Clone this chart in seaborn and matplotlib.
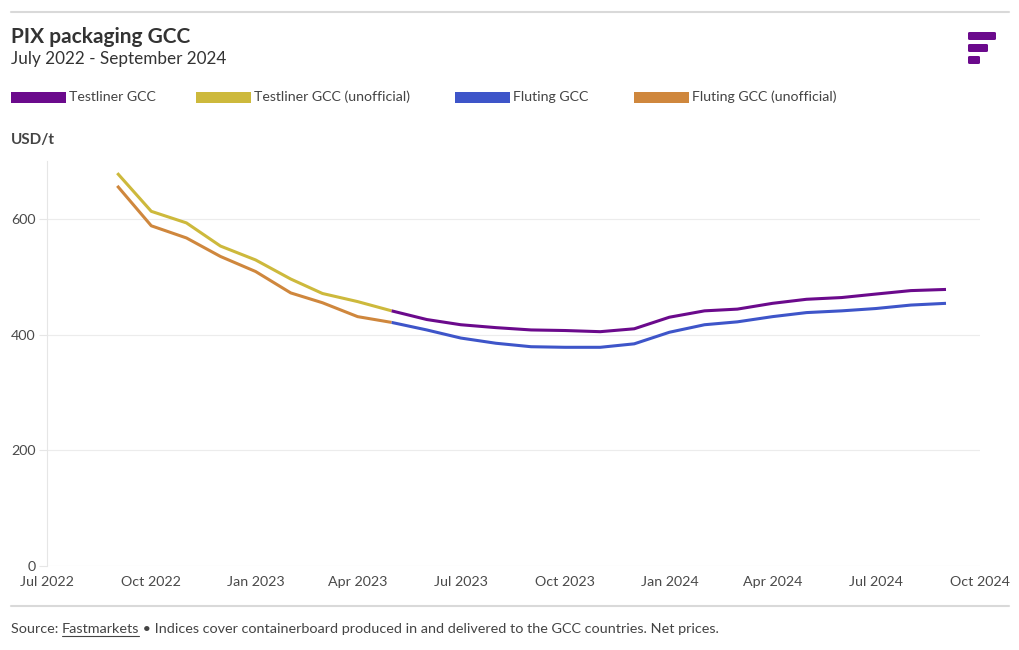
import matplotlib
matplotlib.use("Agg")
import matplotlib.pyplot as plt
from matplotlib.patches import FancyBboxPatch, Rectangle
from matplotlib.lines import Line2D
import seaborn as sns
import pandas as pd

# ---- data ----
unofficial_dates = ["2022-09-01", "2022-10-01", "2022-11-01", "2022-12-01", "2023-01-01",
                    "2023-02-01", "2023-03-01", "2023-04-01", "2023-05-01"]
testliner_unofficial = [679, 613, 593, 553, 529, 496, 471, 457, 441]
fluting_unofficial = [657, 588, 567, 535, 509, 472, 455, 431, 421]

official_dates = ["2023-05-01", "2023-06-01", "2023-07-01", "2023-08-01", "2023-09-01",
                  "2023-10-01", "2023-11-01", "2023-12-01", "2024-01-01", "2024-02-01",
                  "2024-03-01", "2024-04-01", "2024-05-01", "2024-06-01", "2024-07-01",
                  "2024-08-01", "2024-09-01"]
testliner_official = [441, 426, 417, 412, 408, 407, 405, 410, 430, 441, 444, 454, 461, 464, 470, 476, 478]
fluting_official = [421, 408, 394, 385, 379, 378, 378, 384, 404, 417, 422, 431, 438, 441, 445, 451, 454]

series_names = ["Testliner GCC", "Testliner GCC (unofficial)", "Fluting GCC", "Fluting GCC (unofficial)"]
series_colors = ["#6b0a8c", "#cdb93c", "#3e55c9", "#cf873d"]

x_ticks = ["2022-07-01", "2022-10-01", "2023-01-01", "2023-04-01", "2023-07-01",
           "2023-10-01", "2024-01-01", "2024-04-01", "2024-07-01", "2024-10-01"]
x_tick_labels = ["Jul 2022", "Oct 2022", "Jan 2023", "Apr 2023", "Jul 2023",
                 "Oct 2023", "Jan 2024", "Apr 2024", "Jul 2024", "Oct 2024"]
y_ticks = [0, 200, 400, 600]

# ---- frames ----
frames = {
    "Testliner GCC": pd.DataFrame({"date": pd.to_datetime(official_dates), "value": testliner_official}),
    "Testliner GCC (unofficial)": pd.DataFrame({"date": pd.to_datetime(unofficial_dates), "value": testliner_unofficial}),
    "Fluting GCC": pd.DataFrame({"date": pd.to_datetime(official_dates), "value": fluting_official}),
    "Fluting GCC (unofficial)": pd.DataFrame({"date": pd.to_datetime(unofficial_dates), "value": fluting_unofficial}),
}

sns.set_theme(style="white")
plt.rcParams["font.family"] = ["Lato", "DejaVu Sans"]

fig = plt.figure(figsize=(10.2, 6.5), dpi=100)
ax = fig.add_axes([47 / 1020, 1 - 566 / 650, (980 - 47) / 1020, (566 - 161) / 650])

draw_order = ["Testliner GCC (unofficial)", "Fluting GCC (unofficial)", "Fluting GCC", "Testliner GCC"]
for name in draw_order:
    color = series_colors[series_names.index(name)]
    sns.lineplot(data=frames[name], x="date", y="value", ax=ax, color=color,
                 linewidth=2.2, legend=False, solid_capstyle="butt")

ax.set_xlim(pd.Timestamp("2022-07-01"), pd.Timestamp("2024-10-01"))
ax.set_ylim(0, 700)
ax.set_xticks(pd.to_datetime(x_ticks))
ax.set_xticklabels(x_tick_labels)
ax.set_yticks(y_ticks)
ax.set_yticklabels([str(v) for v in y_ticks])
ax.set_xlabel("")
ax.set_ylabel("")
ax.grid(axis="y", color="#ececec", linewidth=0.8)
ax.grid(axis="x", visible=False)
for s in ["top", "right", "bottom"]:
    ax.spines[s].set_visible(False)
ax.spines["left"].set_color("#e6e6e6")
ax.spines["left"].set_linewidth(0.8)
ax.tick_params(axis="y", length=6, color="#e6e6e6", width=0.8, labelsize=10.3,
               labelcolor="#4a4a4a", pad=2, left=True)
ax.tick_params(axis="x", length=0, labelsize=10.3, labelcolor="#4a4a4a", pad=7)

# ---- header ----
fig.add_artist(Line2D([11 / 1020, 1009 / 1020], [1 - 12 / 650, 1 - 12 / 650],
                      color="#d9d9d9", linewidth=1.5))
fig.add_artist(Line2D([11 / 1020, 1009 / 1020], [1 - 606 / 650, 1 - 606 / 650],
                      color="#d9d9d9", linewidth=1.5))
fig.text(11 / 1020, 1 - 37 / 650, "PIX packaging GCC", fontsize=15, fontweight="bold",
         color="#333333", va="center", ha="left")
fig.text(11 / 1020, 1 - 59 / 650, "July 2022 - September 2024", fontsize=12.3,
         color="#333333", va="center", ha="left")
fig.text(11 / 1020, 1 - 140 / 650, "USD/t", fontsize=11, fontweight="bold",
         color="#444444", va="center", ha="left")

# legend
legend_x = [11, 196, 455, 634]
for xpos, name, color in zip(legend_x, series_names, series_colors):
    fig.add_artist(Rectangle((xpos / 1020, 1 - 103 / 650), 55 / 1020, 11 / 650,
                             transform=fig.transFigure, color=color, linewidth=0))
    fig.text((xpos + 58) / 1020, 1 - 97 / 650, name, fontsize=10.2, color="#444444",
             va="center", ha="left")

# logo
for (x0, x1, yc) in [(968, 996, 36), (968, 988, 48), (968, 980, 60)]:
    fig.add_artist(FancyBboxPatch((x0 / 1020, (1 - (yc + 4) / 650)), (x1 - x0) / 1020, 8 / 650,
                                  boxstyle="round,pad=0,rounding_size=0.0018",
                                  transform=fig.transFigure, color="#6b0a8c", linewidth=0))

# footer
t1 = fig.text(11 / 1020, 1 - 629 / 650, "Source: ", fontsize=10.4, color="#444444",
              va="center", ha="left")
fig.canvas.draw()
r = fig.canvas.get_renderer()
bb = t1.get_window_extent(r)
t2 = fig.text(bb.x1 / 1020, 1 - 629 / 650, "Fastmarkets", fontsize=10.4, color="#444444",
              va="center", ha="left")
bb2 = t2.get_window_extent(r)
fig.add_artist(Line2D([bb2.x0 / 1020, bb2.x1 / 1020], [1 - 636 / 650, 1 - 636 / 650],
                      color="#444444", linewidth=0.8))
fig.text(bb2.x1 / 1020, 1 - 629 / 650,
         " \u2022 Indices cover containerboard produced in and delivered to the GCC countries. Net prices.",
         fontsize=10.4, color="#444444", va="center", ha="left")

fig.savefig("out.png", dpi=100)
